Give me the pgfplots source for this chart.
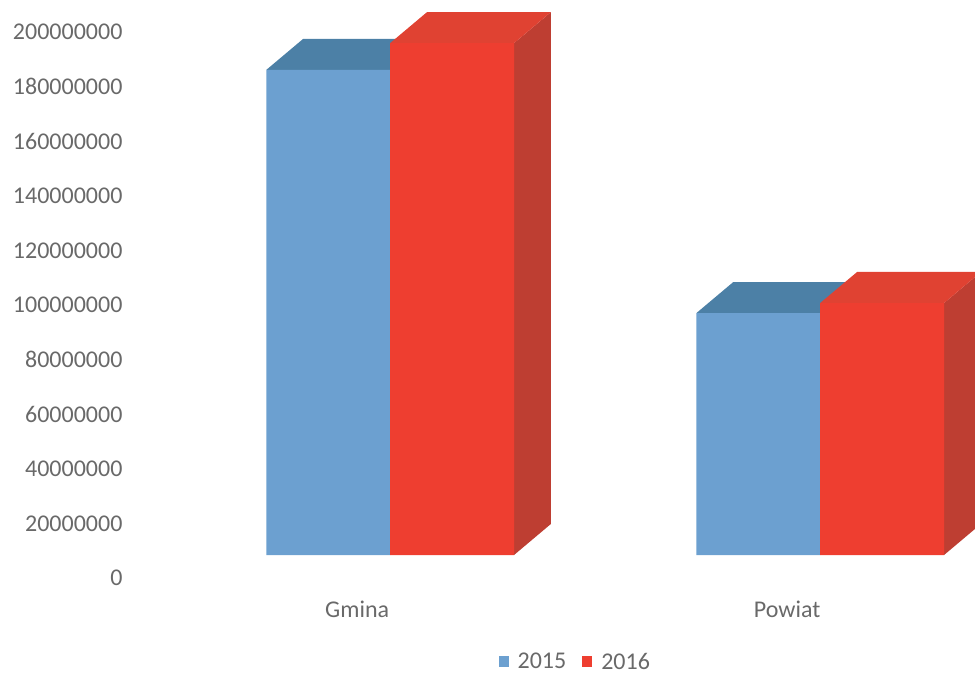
\documentclass[border=0pt]{standalone}
\usepackage{pgfplots}
\pgfplotsset{compat=1.18}
\usepackage{fontspec}
\setmainfont{Carlito}
\definecolor{txt}{RGB}{105,105,105}
\definecolor{bfront}{RGB}{108,160,208}
\definecolor{btop}{RGB}{76,128,166}
\definecolor{rfront}{RGB}{238,62,48}
\definecolor{rtop}{RGB}{224,66,50}
\definecolor{rside}{RGB}{190,62,50}

\begin{document}
\begin{tikzpicture}
\begin{axis}[
  scale only axis, width=845pt, height=578pt,
  xmin=-0.605, xmax=1.36, ymin=-8420000, ymax=203300000,
  axis line style={draw=none}, major tick length=0pt,
  xtick={0,1}, xticklabels={Gmina,Powiat},
  ytick={0,20000000,40000000,60000000,80000000,100000000,120000000,140000000,160000000,180000000,200000000},
  yticklabels={0,20000000,40000000,60000000,80000000,100000000,120000000,140000000,160000000,180000000,200000000},
  scaled y ticks=false,
  every tick label/.append style={font=\fontsize{24}{28}\selectfont, text=txt},
  yticklabel style={yshift=-23pt, xshift=-4pt},
  xticklabel style={xshift=-33pt, yshift=-19pt},
  legend columns=2,
  legend style={at={(0.527,-0.145)}, anchor=center, draw=none, fill=none,
    font=\fontsize{24}{28}\selectfont, text=txt,
    /tikz/every even column/.append style={column sep=14pt}},
]
% tops of the 2015 bars
\addplot[fill=btop, draw=none, forget plot] coordinates {(-0.288,177700000) (-0.202,189100000) (0.086,189100000) (0,177700000)} -- cycle;
\addplot[fill=btop, draw=none, forget plot] coordinates {(0.712,88600000) (0.798,100000000) (1.086,100000000) (1,88600000)} -- cycle;
\addplot[ybar, bar width=0.288, bar shift=-0.144, fill=bfront, draw=none,
  legend image code/.code={\fill[bfront] (0pt,-5pt) rectangle (10pt,6pt); \path (17pt,0pt);}]
  coordinates {(0,177700000) (1,88600000)};
\addlegendentry{2015}
% sides and tops of the 2016 bars
\addplot[fill=rside, draw=none, forget plot] coordinates {(0.288,0) (0.374,11400000) (0.374,198900000) (0.288,187500000)} -- cycle;
\addplot[fill=rtop, draw=none, forget plot] coordinates {(0,187500000) (0.086,198900000) (0.374,198900000) (0.288,187500000)} -- cycle;
\addplot[fill=rside, draw=none, forget plot] coordinates {(1.288,0) (1.374,11400000) (1.374,103700000) (1.288,92300000)} -- cycle;
\addplot[fill=rtop, draw=none, forget plot] coordinates {(1,92300000) (1.086,103700000) (1.374,103700000) (1.288,92300000)} -- cycle;
\addplot[ybar, bar width=0.288, bar shift=0.144, fill=rfront, draw=none,
  legend image code/.code={\fill[rfront] (0pt,-5pt) rectangle (10pt,6pt); \path (17pt,0pt);}]
  coordinates {(0,187500000) (1,92300000)};
\addlegendentry{2016}
\end{axis}
\pgfresetboundingbox
\path (current axis.north west) ++(-130pt,0pt) rectangle ++(975pt,-677pt);
\end{tikzpicture}
\end{document}
